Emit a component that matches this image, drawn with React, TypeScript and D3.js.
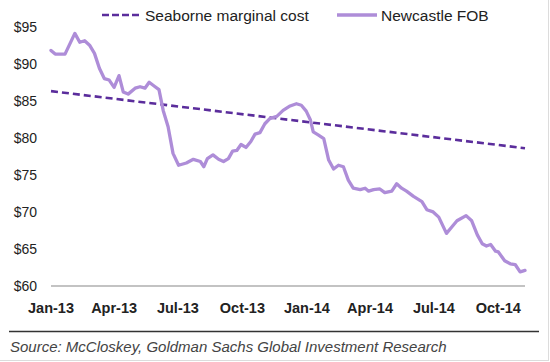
import React, { useEffect, useRef } from 'react';
import * as d3 from 'd3';

// Newcastle FOB thermal coal price, US$/t
const fobDates = [
  '2013-01-01', '2013-01-07', '2013-01-21', '2013-02-04', '2013-02-11', '2013-02-18', '2013-02-25',
  '2013-03-04', '2013-03-11', '2013-03-18', '2013-03-25', '2013-04-01', '2013-04-08', '2013-04-14',
  '2013-04-21', '2013-05-01', '2013-05-08', '2013-05-15', '2013-05-21', '2013-05-28', '2013-06-04',
  '2013-06-10', '2013-06-17', '2013-06-24', '2013-07-02', '2013-07-13', '2013-07-23', '2013-08-02',
  '2013-08-07', '2013-08-12', '2013-08-20', '2013-08-28', '2013-09-04', '2013-09-11', '2013-09-17',
  '2013-09-23', '2013-09-29', '2013-10-06', '2013-10-13', '2013-10-19', '2013-10-26', '2013-11-02',
  '2013-11-09', '2013-11-19', '2013-11-28', '2013-12-08', '2013-12-17', '2013-12-24', '2013-12-31',
  '2014-01-06', '2014-01-10', '2014-01-17', '2014-01-25', '2014-02-01', '2014-02-08', '2014-02-15',
  '2014-02-22', '2014-03-01', '2014-03-08', '2014-03-18', '2014-03-25', '2014-03-30', '2014-04-06',
  '2014-04-15', '2014-04-22', '2014-05-02', '2014-05-09', '2014-05-16', '2014-05-23', '2014-06-02',
  '2014-06-14', '2014-06-21', '2014-06-30', '2014-07-08', '2014-07-19', '2014-07-26', '2014-08-03',
  '2014-08-16', '2014-08-24', '2014-09-01', '2014-09-08', '2014-09-14', '2014-09-20', '2014-09-27',
  '2014-10-01', '2014-10-10', '2014-10-18', '2014-10-25', '2014-11-01', '2014-11-08',
];
const fobValues = [
  91.8, 91.3, 91.3, 94.1, 92.9, 93.1, 92.5,
  91.4, 89.4, 88.0, 87.8, 86.8, 88.4, 86.2,
  85.9, 86.7, 86.9, 86.7, 87.5, 87.0, 86.5,
  83.7, 81.5, 77.9, 76.3, 76.6, 77.1, 76.8,
  76.1, 77.2, 77.7, 77.1, 76.8, 77.2, 78.2,
  78.3, 79.1, 78.7, 79.5, 80.5, 80.7, 81.9,
  82.6, 82.9, 83.7, 84.3, 84.6, 84.4, 83.6,
  82.4, 80.8, 80.4, 79.9, 77.0, 75.8, 76.3,
  76.1, 74.3, 73.2, 73.0, 73.2, 72.8, 73.0,
  73.1, 72.6, 72.8, 73.8, 73.2, 72.8, 72.1,
  71.4, 70.3, 70.0, 69.3, 67.1, 67.9, 68.8,
  69.5, 68.8, 66.9, 65.7, 65.4, 65.6, 64.7,
  64.6, 63.4, 63.0, 62.9, 61.9, 62.1,
];

// Seaborne marginal cost (straight line)
const costDates = ['2013-01-01', '2014-11-08'];
const costValues = [86.3, 78.6];

const xTickDates = ['2013-01-01', '2013-04-01', '2013-07-01', '2013-10-01', '2014-01-01', '2014-04-01', '2014-07-01', '2014-10-01'];
const yTicks = [60, 65, 70, 75, 80, 85, 90, 95];

const seriesNames = ['Seaborne marginal cost', 'Newcastle FOB'];
const sourceText = 'Source: McCloskey, Goldman Sachs Global Investment Research';

const W = 550;
const H = 362;
const FONT = '"Liberation Sans", Arial, sans-serif';
const FOB_COLOR = '#ae8dd8';
const COST_COLOR = '#5b2d9c';

const App = () => {
  const svgRef = useRef<SVGSVGElement>(null);

  useEffect(() => {
    const svg = d3.select(svgRef.current);
    svg.selectAll('*').remove();

    const parse = d3.timeParse('%Y-%m-%d');
    const fmt = d3.timeFormat('%b-%y');

    const x = d3.scaleTime()
      .domain([parse('2013-01-01') as Date, parse('2014-11-08') as Date])
      .range([51, 525]);
    const y = d3.scaleLinear().domain([60, 95]).range([286, 26.7]);

    svg.append('rect').attr('width', W).attr('height', H).attr('fill', '#fff');

    // light frame on right / bottom
    svg.append('line').attr('x1', 548.5).attr('x2', 548.5).attr('y1', 0).attr('y2', 361)
      .attr('stroke', '#dcdcdc').attr('stroke-width', 1);
    svg.append('line').attr('x1', 0).attr('x2', 549).attr('y1', 360.5).attr('y2', 360.5)
      .attr('stroke', '#dcdcdc').attr('stroke-width', 1);

    // y axis labels
    svg.append('g')
      .selectAll('text')
      .data(yTicks)
      .enter()
      .append('text')
      .attr('x', 37)
      .attr('y', d => y(d))
      .attr('dy', '0.35em')
      .attr('text-anchor', 'end')
      .attr('font-family', FONT)
      .attr('font-size', 14)
      .attr('fill', '#222')
      .text(d => `$${d}`);

    // baseline axis
    svg.append('line')
      .attr('x1', x.range()[0]).attr('x2', x.range()[1])
      .attr('y1', y(60)).attr('y2', y(60))
      .attr('stroke', '#888').attr('stroke-width', 1.2);

    // x labels
    svg.append('g')
      .selectAll('text')
      .data(xTickDates.map(d => parse(d) as Date))
      .enter()
      .append('text')
      .attr('x', d => x(d))
      .attr('y', 313)
      .attr('text-anchor', 'middle')
      .attr('font-family', FONT)
      .attr('font-size', 14.5)
      .attr('font-weight', 'bold')
      .attr('fill', '#222')
      .text(d => fmt(d));

    // Seaborne marginal cost
    const costData = costDates.map((d, i) => ({ date: parse(d) as Date, value: costValues[i] }));
    const line = d3.line<{ date: Date; value: number }>()
      .x(d => x(d.date))
      .y(d => y(d.value));

    svg.append('path')
      .datum(costData)
      .attr('d', line)
      .attr('fill', 'none')
      .attr('stroke', COST_COLOR)
      .attr('stroke-width', 2.6)
      .attr('stroke-dasharray', '7,4');

    // Newcastle FOB
    const fobData = fobDates.map((d, i) => ({ date: parse(d) as Date, value: fobValues[i] }));
    svg.append('path')
      .datum(fobData)
      .attr('d', line)
      .attr('fill', 'none')
      .attr('stroke', FOB_COLOR)
      .attr('stroke-width', 3.3)
      .attr('stroke-linejoin', 'round')
      .attr('stroke-linecap', 'round');

    // legend
    const legend = svg.append('g').attr('font-family', FONT).attr('font-size', 15.5).attr('fill', '#222');
    legend.append('line')
      .attr('x1', 102).attr('x2', 139).attr('y1', 15).attr('y2', 15)
      .attr('stroke', COST_COLOR).attr('stroke-width', 2.6).attr('stroke-dasharray', '7,3');
    legend.append('text').attr('x', 145).attr('y', 20.5).text(seriesNames[0]);
    legend.append('line')
      .attr('x1', 337).attr('x2', 377).attr('y1', 15).attr('y2', 15)
      .attr('stroke', FOB_COLOR).attr('stroke-width', 3.3);
    legend.append('text').attr('x', 381).attr('y', 20.5).text(seriesNames[1]);

    // source
    svg.append('line')
      .attr('x1', 9).attr('x2', 539).attr('y1', 331.5).attr('y2', 331.5)
      .attr('stroke', '#333').attr('stroke-width', 1.5);
    svg.append('text')
      .attr('x', 10)
      .attr('y', 352)
      .attr('font-family', FONT)
      .attr('font-size', 15)
      .attr('font-style', 'italic')
      .attr('fill', '#444')
      .text(sourceText);

    return () => {
      d3.select(svgRef.current).selectAll('*').remove();
    };
  }, []);

  return (
    <svg
      ref={svgRef}
      width={W}
      height={H}
      style={{ position: 'absolute', left: 0, top: 0, display: 'block' }}
    />
  );
};

export default App;
